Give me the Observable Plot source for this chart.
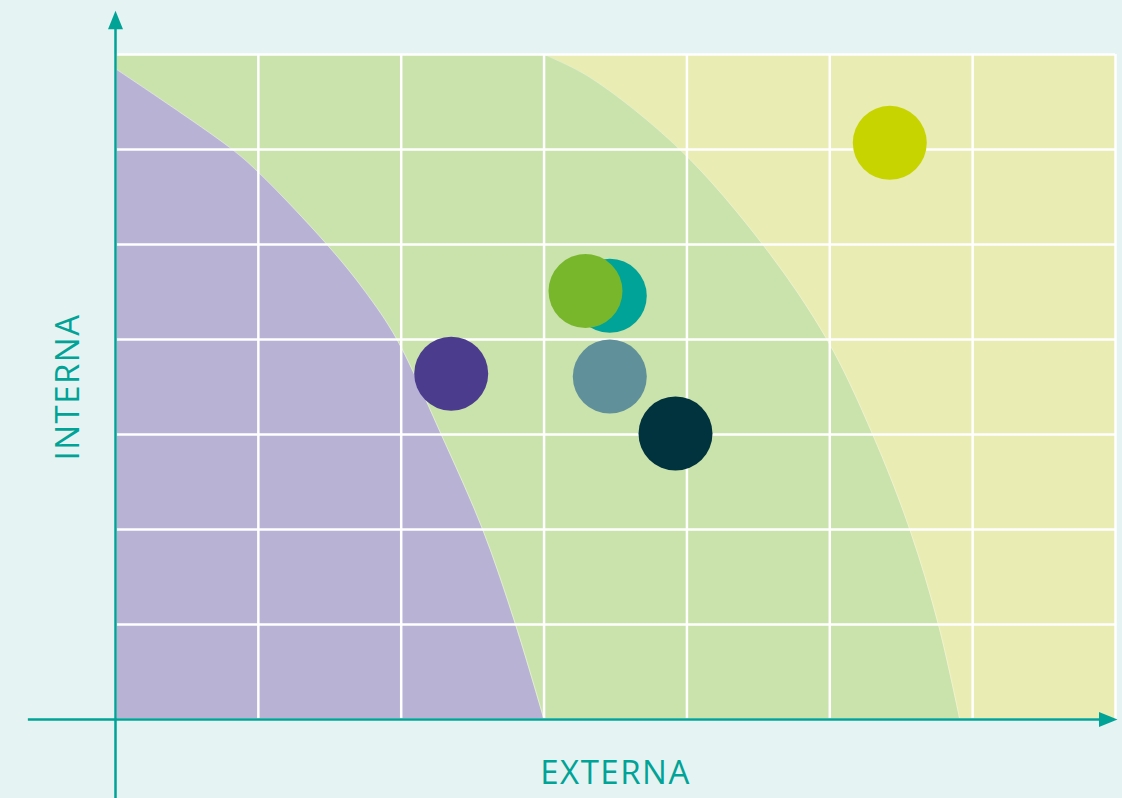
<!DOCTYPE html>
<html>
<head>
<meta charset="utf-8">
<script src="https://cdn.jsdelivr.net/npm/d3@7"></script>
<script src="https://cdn.jsdelivr.net/npm/@observablehq/plot@0.6"></script>
<style>
  html, body { margin: 0; padding: 0; background: #e5f3f3; }
  #chart { width: 1122px; height: 798px; overflow: hidden; }
  svg { display: block; }
  .axis-label text { letter-spacing: 1.5px; }
</style>
</head>
<body>
<div id="chart"></div>
<script>
// Grid ticks (both axes, 0..7 units)
const xTicks = [0, 1, 2, 3, 4, 5, 6, 7];
const yTicks = [0, 1, 2, 3, 4, 5, 6, 7];

// Zone boundaries (y ascending, x = boundary)
const greenY = [0, 1, 2, 3, 4, 5, 6, 6.76, 7];
const greenX = [5.91, 5.76, 5.56, 5.30, 4.98, 4.53, 3.95, 3.32, 3.0];
const purpleY = [0, 1, 2, 3, 4, 4.52, 5, 5.76, 6.02, 6.85];
const purpleX = [3.0, 2.80, 2.57, 2.28, 1.97, 1.74, 1.48, 1.0, 0.80, 0];

// Bubbles
const dotX = [5.42, 3.46, 3.29, 2.35, 3.46, 3.92];
const dotY = [6.07, 4.46, 4.51, 3.64, 3.61, 3.01];
const dotColor = ["#c8d400", "#00a398", "#78b72b", "#4b3c8d", "#60909a", "#00333d"];

// Axis lines and labels
const axisColor = "#00a396";
const xAxisLabel = "EXTERNA";
const yAxisLabel = "INTERNA";
const xAxisExtent = [-0.61, 6.89];  // x-axis line from / to (arrow base)
const yAxisExtent = [-0.84, 7.27];  // y-axis line from / to (arrow base)
const xArrowTip = 7.014;
const yArrowTip = 7.46;

const green = greenY.map((y, i) => ({y, x: greenX[i]}));
const purple = purpleY.map((y, i) => ({y, x: purpleX[i]}));
const dots = dotX.map((x, i) => ({x, y: dotY[i], color: dotColor[i]}));

// Filled arrowhead with its tip at the anchor point, pointing up
const arrowHead = {
  draw(ctx) {
    ctx.moveTo(0, 0);
    ctx.lineTo(7.5, 18.5);
    ctx.lineTo(-7.5, 18.5);
    ctx.closePath();
  }
};

const plot = Plot.plot({
  width: 1122,
  height: 798,
  marginLeft: 115,
  marginRight: 7,
  marginTop: 54,
  marginBottom: 79,
  x: {domain: [0, 7], axis: null},
  y: {domain: [0, 7], axis: null},
  style: {background: "transparent", overflow: "visible", fontFamily: "'Open Sans', sans-serif"},
  marks: [
    Plot.frame({fill: "#e9ecb3", stroke: null}),
    Plot.areaX(green, {y: "y", x1: 0, x2: "x", fill: "#cae2ab", curve: "catmull-rom"}),
    Plot.lineX(green, {y: "y", x: "x", stroke: "#ffffff", strokeOpacity: 0.35, strokeWidth: 1, curve: "catmull-rom"}),
    Plot.areaX(purple, {y: "y", x1: 0, x2: "x", fill: "#b8b2d5", curve: "catmull-rom"}),
    Plot.lineX(purple, {y: "y", x: "x", stroke: "#ffffff", strokeOpacity: 0.45, strokeWidth: 1, curve: "catmull-rom"}),
    Plot.ruleX(xTicks, {stroke: "white", strokeWidth: 2.5}),
    Plot.ruleY(yTicks, {stroke: "white", strokeWidth: 2.5}),
    Plot.dot(dots, {x: "x", y: "y", r: 37, fill: "color", stroke: null}),
    // axes
    Plot.ruleY([0], {x1: xAxisExtent[0], x2: xAxisExtent[1], stroke: axisColor, strokeWidth: 2.5}),
    Plot.ruleX([0], {y1: yAxisExtent[0], y2: yAxisExtent[1], stroke: axisColor, strokeWidth: 2.5}),
    Plot.dot([{x: xArrowTip, y: 0}], {x: "x", y: "y", symbol: arrowHead, r: 10, fill: axisColor, stroke: null, rotate: 90}),
    Plot.dot([{x: 0, y: yArrowTip}], {x: "x", y: "y", symbol: arrowHead, r: 10, fill: axisColor, stroke: null}),
    Plot.text([xAxisLabel], {className: "axis-label", frameAnchor: "bottom", dy: 54, fontSize: 33, fill: axisColor, text: d => d, textAnchor: "middle", lineAnchor: "middle"}),
    Plot.text([yAxisLabel], {className: "axis-label", frameAnchor: "left", dx: -47, fontSize: 33, fill: axisColor, text: d => d, rotate: -90, textAnchor: "middle", lineAnchor: "middle"})
  ]
});
document.getElementById("chart").appendChild(plot);
</script>
</body>
</html>
